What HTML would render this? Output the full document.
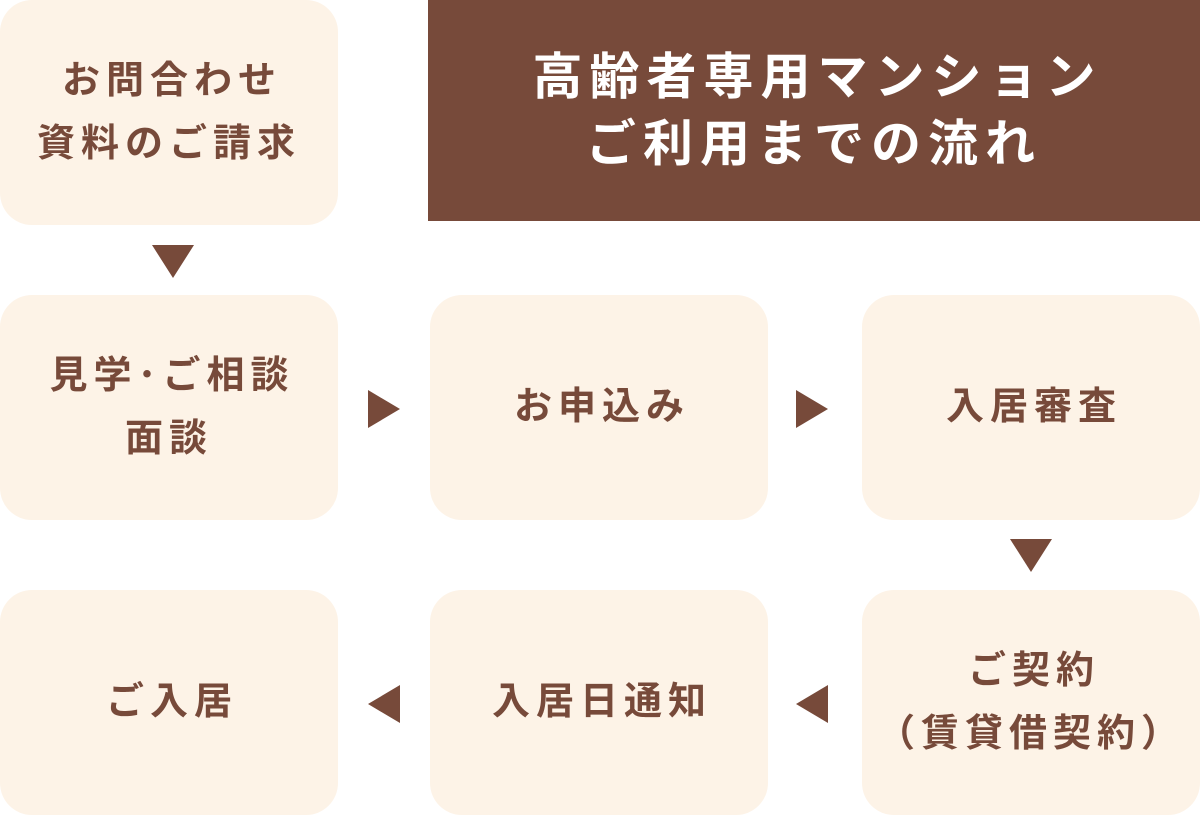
<!DOCTYPE html>
<html><head><meta charset="utf-8"><style>
html,body{margin:0;padding:0;background:#fff;}
body{width:1200px;height:818px;position:relative;overflow:hidden;font-family:"Liberation Sans","Noto Sans CJK JP",sans-serif;}
.b{position:absolute;width:338px;height:225px;background:#fdf3e7;border-radius:32px;display:flex;align-items:center;justify-content:center;text-align:center;color:#774a3a;font-weight:bold;font-size:38px;line-height:63px;letter-spacing:6px;text-indent:6px;}
.t{position:absolute;left:428px;top:0;width:772px;height:221px;background:#774a3a;color:#fff;display:flex;align-items:center;justify-content:center;text-align:center;font-weight:bold;font-size:50px;line-height:67px;letter-spacing:7px;text-indent:7px;}
.a{position:absolute;width:0;height:0;}
.d{border-left:21px solid transparent;border-right:21px solid transparent;border-top:33px solid #774a3a;}
.r{border-top:19px solid transparent;border-bottom:19px solid transparent;border-left:32px solid #774a3a;}
.l{border-top:19px solid transparent;border-bottom:19px solid transparent;border-right:32px solid #774a3a;}
</style></head><body>
<div class="b" style="left:0;top:0">お問合わせ<br>資料のご請求</div>
<div class="t">高齢者専用マンション<br>ご利用までの流れ</div>
<div class="a d" style="left:152px;top:245px"></div>
<div class="b" style="left:0;top:295px">見学･ご相談<br>面談</div>
<div class="a r" style="left:368px;top:390px"></div>
<div class="b" style="left:430px;top:295px">お申込み</div>
<div class="a r" style="left:796px;top:390px"></div>
<div class="b" style="left:862px;top:295px">入居審査</div>
<div class="a d" style="left:1010px;top:539px"></div>
<div class="b" style="left:0;top:590px">ご入居</div>
<div class="a l" style="left:368px;top:685px"></div>
<div class="b" style="left:430px;top:590px">入居日通知</div>
<div class="a l" style="left:796px;top:685px"></div>
<div class="b" style="left:862px;top:590px">ご契約<br>（賃貸借契約）</div>
</body></html>
